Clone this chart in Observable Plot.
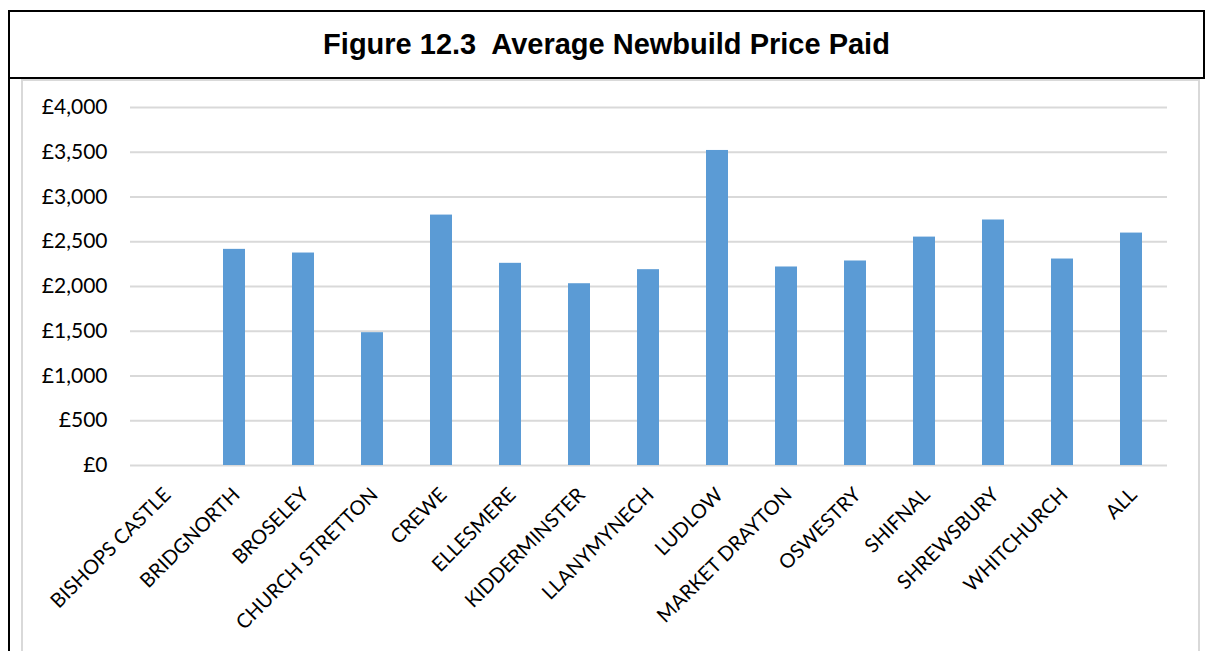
<!DOCTYPE html>
<html>
<head>
<meta charset="utf-8">
<script src="https://cdn.jsdelivr.net/npm/d3@7"></script>
<script src="https://cdn.jsdelivr.net/npm/@observablehq/plot@0.6"></script>
<style>
  html, body { margin: 0; padding: 0; background: #fff; }
  #page { position: relative; width: 1206px; height: 651px; overflow: hidden; background: #fff; }
  #titlebox {
    position: absolute; left: 8px; top: 10px; width: 1193px; height: 65px;
    border: 2px solid #000;
    display: flex; align-items: center; justify-content: center;
    font-family: "Liberation Sans", Arial, sans-serif; font-weight: bold; font-size: 29px; color: #000;
    box-sizing: content-box; white-space: pre;
  }
  #leftline { position: absolute; left: 8px; top: 10px; width: 2px; height: 641px; background: #000; }
  #chartbox {
    position: absolute; left: 21px; top: 79px; width: 1175px; height: 580px;
    border: 2px solid #d9d9d9; border-bottom: none; box-sizing: content-box;
  }
  #chart { position: absolute; left: 0; top: 78px; }
</style>
</head>
<body>
<div id="page">
  <div id="chartbox"></div>
  <div id="titlebox">Figure 12.3  Average Newbuild Price Paid</div>
  <div id="leftline"></div>
  <div id="chart"></div>
</div>
<script>
const categories = ["BISHOPS CASTLE", "BRIDGNORTH", "BROSELEY", "CHURCH STRETTON", "CREWE", "ELLESMERE", "KIDDERMINSTER", "LLANYMYNECH", "LUDLOW", "MARKET DRAYTON", "OSWESTRY", "SHIFNAL", "SHREWSBURY", "WHITCHURCH", "ALL"];
const values = [0, 2415, 2374, 1484, 2798, 2259, 2031, 2188, 3520, 2218, 2285, 2552, 2743, 2307, 2597];
const yTicks = [0, 500, 1000, 1500, 2000, 2500, 3000, 3500, 4000];

const data = categories.map((c, i) => ({category: c, value: values[i]}));
const fmt = d => "£" + d3.format(",")(d);

const chart = Plot.plot({
  width: 1206,
  height: 573,
  marginLeft: 130,
  marginRight: 39,
  marginTop: 29,
  marginBottom: 186,
  style: {fontFamily: "Lato, 'Open Sans', sans-serif", fontSize: "20px", color: "#000", background: "transparent"},
  x: {domain: categories, paddingInner: 0.68, paddingOuter: 0.34, label: null},
  y: {domain: [0, 4000], label: null},
  marks: [
    Plot.gridY(yTicks, {stroke: "#d9d9d9", strokeOpacity: 1, strokeWidth: 2}),
    Plot.barY(data, {x: "category", y: "value", fill: "#5b9bd5"}),
    Plot.axisY({ticks: yTicks, tickFormat: fmt, tickSize: 0, tickPadding: 23, label: null, fontSize: 21}),
    Plot.axisX({tickSize: 0, tickRotate: -45, tickPadding: 26, label: null, fontSize: 20, dx: 2})
  ]
});
document.getElementById("chart").appendChild(chart);
</script>
</body>
</html>
